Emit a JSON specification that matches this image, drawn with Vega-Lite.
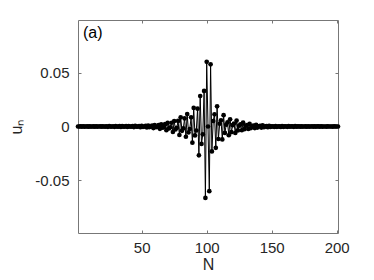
{
  "$schema": "https://vega.github.io/schema/vega-lite/v6.json",
  "autosize": {"type": "none"},
  "padding": {"left": 78, "top": 20, "right": 36, "bottom": 47},
  "width": 260,
  "height": 213,
  "background": "white",
  "config": {
    "view": {"stroke": "#777777", "strokeWidth": 1},
    "axis": {"domain": false, "grid": false, "tickColor": "#777777", "tickSize": -3, "labelFont": "Liberation Sans", "labelFontSize": 15, "labelColor": "#262626", "titleFont": "Liberation Sans", "titleFontSize": 16, "titleFontWeight": "normal", "titleColor": "#262626"}
  },
  "title": {"text": "(a)", "anchor": "start", "frame": "group", "orient": "top", "baseline": "top", "offset": 0, "dx": 5, "dy": 21, "font": "Liberation Sans", "fontSize": 16, "fontWeight": "normal", "color": "#000000"},
  "data": {"values": [
    {"N":1,"u":0},{"N":2,"u":0},{"N":3,"u":0.0001},{"N":4,"u":-0.0001},{"N":5,"u":0.0001},
    {"N":6,"u":-0.0001},{"N":7,"u":0},{"N":8,"u":0.0001},{"N":9,"u":-0.0002},{"N":10,"u":0.0002},
    {"N":11,"u":-0.0001},{"N":12,"u":0},{"N":13,"u":0.0001},{"N":14,"u":-0.0002},{"N":15,"u":0.0002},
    {"N":16,"u":-0.0001},{"N":17,"u":0},{"N":18,"u":0.0002},{"N":19,"u":-0.0002},{"N":20,"u":0.0002},
    {"N":21,"u":-0.0001},{"N":22,"u":-0.0001},{"N":23,"u":0.0002},{"N":24,"u":-0.0003},{"N":25,"u":0.0003},
    {"N":26,"u":-0.0001},{"N":27,"u":-0.0001},{"N":28,"u":0.0002},{"N":29,"u":-0.0003},{"N":30,"u":0.0003},
    {"N":31,"u":-0.0002},{"N":32,"u":-0.0001},{"N":33,"u":0.0003},{"N":34,"u":-0.0004},{"N":35,"u":0.0004},
    {"N":36,"u":-0.0002},{"N":37,"u":-0.0001},{"N":38,"u":0.0003},{"N":39,"u":-0.0004},{"N":40,"u":0.0004},
    {"N":41,"u":-0.0002},{"N":42,"u":-0.0001},{"N":43,"u":0.0004},{"N":44,"u":-0.0005},{"N":45,"u":0.0005},
    {"N":46,"u":-0.0002},{"N":47,"u":-0.0001},{"N":48,"u":0.0004},{"N":49,"u":-0.0006},{"N":50,"u":0.0006},
    {"N":51,"u":-0.0003},{"N":52,"u":-0.0001},{"N":53,"u":0.0006},{"N":54,"u":-0.0009},{"N":55,"u":0.0009},
    {"N":56,"u":-0.0005},{"N":57,"u":-0.0002},{"N":58,"u":0.0009},{"N":59,"u":-0.0015},{"N":60,"u":0.0014},
    {"N":61,"u":-0.0007},{"N":62,"u":-0.0003},{"N":63,"u":0.0014},{"N":64,"u":-0.0022},{"N":65,"u":0.0021},
    {"N":66,"u":-0.0011},{"N":67,"u":-0.0005},{"N":68,"u":0.0022},{"N":69,"u":-0.0034},{"N":70,"u":0.0033},
    {"N":71,"u":-0.0018},{"N":72,"u":-0.0008},{"N":73,"u":0.0035},{"N":74,"u":-0.0051},{"N":75,"u":0.005},
    {"N":76,"u":-0.0027},{"N":77,"u":-0.0012},{"N":78,"u":0.0052},{"N":79,"u":-0.0079},{"N":80,"u":0.0085},
    {"N":81,"u":-0.004},{"N":82,"u":-0.0017},{"N":83,"u":0.0075},{"N":84,"u":-0.0095},{"N":85,"u":0.0115},
    {"N":86,"u":-0.0055},{"N":87,"u":-0.0023},{"N":88,"u":0.0085},{"N":89,"u":-0.015},{"N":90,"u":0.0172},
    {"N":91,"u":-0.0083},{"N":92,"u":-0.0037},{"N":93,"u":0.0165},{"N":94,"u":-0.0267},{"N":95,"u":0.0283},
    {"N":96,"u":-0.0162},{"N":97,"u":-0.0073},{"N":98,"u":0.033},{"N":99,"u":-0.0663},{"N":100,"u":0.06},
    {"N":101,"u":0},
    {"N":102,"u":-0.06},{"N":103,"u":0.0577},{"N":104,"u":-0.0231},{"N":105,"u":0.0051},{"N":106,"u":0.0113},
    {"N":107,"u":-0.0198},{"N":108,"u":0.0187},{"N":109,"u":-0.0116},{"N":110,"u":0.0026},{"N":111,"u":0.0058},
    {"N":112,"u":-0.012},{"N":113,"u":0.0105},{"N":114,"u":-0.006},{"N":115,"u":0.0016},{"N":116,"u":0.0039},
    {"N":117,"u":-0.0081},{"N":118,"u":0.0067},{"N":119,"u":-0.0053},{"N":120,"u":0.0012},{"N":121,"u":0.0028},
    {"N":122,"u":-0.006},{"N":123,"u":0.0055},{"N":124,"u":-0.0036},{"N":125,"u":0.0008},{"N":126,"u":0.0019},
    {"N":127,"u":-0.0035},{"N":128,"u":0.0036},{"N":129,"u":-0.0025},{"N":130,"u":0.0006},{"N":131,"u":0.0013},
    {"N":132,"u":-0.0023},{"N":133,"u":0.0024},{"N":134,"u":-0.0015},{"N":135,"u":0.0004},{"N":136,"u":0.0008},
    {"N":137,"u":-0.0015},{"N":138,"u":0.0015},{"N":139,"u":-0.001},{"N":140,"u":0.0002},{"N":141,"u":0.0005},
    {"N":142,"u":-0.001},{"N":143,"u":0.0011},{"N":144,"u":-0.0006},{"N":145,"u":0.0001},{"N":146,"u":0.0004},
    {"N":147,"u":-0.0006},{"N":148,"u":0.0006},{"N":149,"u":-0.0004},{"N":150,"u":0.0001},{"N":151,"u":0.0002},
    {"N":152,"u":-0.0004},{"N":153,"u":0.0004},{"N":154,"u":-0.0003},{"N":155,"u":0.0001},{"N":156,"u":0.0001},
    {"N":157,"u":-0.0004},{"N":158,"u":0.0004},{"N":159,"u":-0.0003},{"N":160,"u":0.0001},{"N":161,"u":0.0001},
    {"N":162,"u":-0.0003},{"N":163,"u":0.0003},{"N":164,"u":-0.0002},{"N":165,"u":0.0001},{"N":166,"u":0.0001},
    {"N":167,"u":-0.0003},{"N":168,"u":0.0003},{"N":169,"u":-0.0002},{"N":170,"u":0.0001},{"N":171,"u":0.0001},
    {"N":172,"u":-0.0002},{"N":173,"u":0.0002},{"N":174,"u":-0.0001},{"N":175,"u":0},{"N":176,"u":0.0001},
    {"N":177,"u":-0.0002},{"N":178,"u":0.0002},{"N":179,"u":-0.0001},{"N":180,"u":0},{"N":181,"u":0.0001},
    {"N":182,"u":-0.0001},{"N":183,"u":0.0001},{"N":184,"u":-0.0001},{"N":185,"u":0.0001},{"N":186,"u":0.0001},
    {"N":187,"u":-0.0001},{"N":188,"u":0.0001},{"N":189,"u":-0.0001},{"N":190,"u":0},{"N":191,"u":0},
    {"N":192,"u":-0.0001},{"N":193,"u":0.0001},{"N":194,"u":0},{"N":195,"u":0},{"N":196,"u":0},
    {"N":197,"u":-0.0001},{"N":198,"u":0.0001},{"N":199,"u":0},{"N":200,"u":0},{"N":201,"u":0}
  ]},
  "layer": [
    {
      "mark": {"type": "line", "color": "#000000", "strokeWidth": 1},
      "encoding": {
        "x": {"field": "N", "type": "quantitative", "scale": {"domain": [1, 201], "nice": false, "zero": false},
              "axis": {"orient": "bottom", "values": [50, 100, 150, 200], "labelPadding": 10, "title": "N", "titlePadding": 1}},
        "y": {"field": "u", "type": "quantitative", "scale": {"domain": [-0.0988, 0.0988], "nice": false, "zero": false},
              "axis": {"orient": "left", "values": [-0.05, 0, 0.05], "labelPadding": 12, "title": "uₙ", "titlePadding": 10,
                       "labelExpr": "datum.value == 0 ? '0' : (datum.value < 0 ? '-' : '') + format(abs(datum.value), '.2f')"}}
      }
    },
    {
      "mark": {"type": "point", "filled": true, "color": "#000000", "size": 22, "opacity": 1},
      "encoding": {
        "x": {"field": "N", "type": "quantitative", "scale": {"domain": [1, 201], "nice": false, "zero": false},
              "axis": {"orient": "top", "values": [50, 100, 150, 200], "labels": false, "title": null}},
        "y": {"field": "u", "type": "quantitative", "scale": {"domain": [-0.0988, 0.0988], "nice": false, "zero": false},
              "axis": {"orient": "right", "values": [-0.05, 0, 0.05], "labels": false, "title": null}}
      }
    }
  ],
  "resolve": {"axis": {"x": "independent", "y": "independent"}}
}
